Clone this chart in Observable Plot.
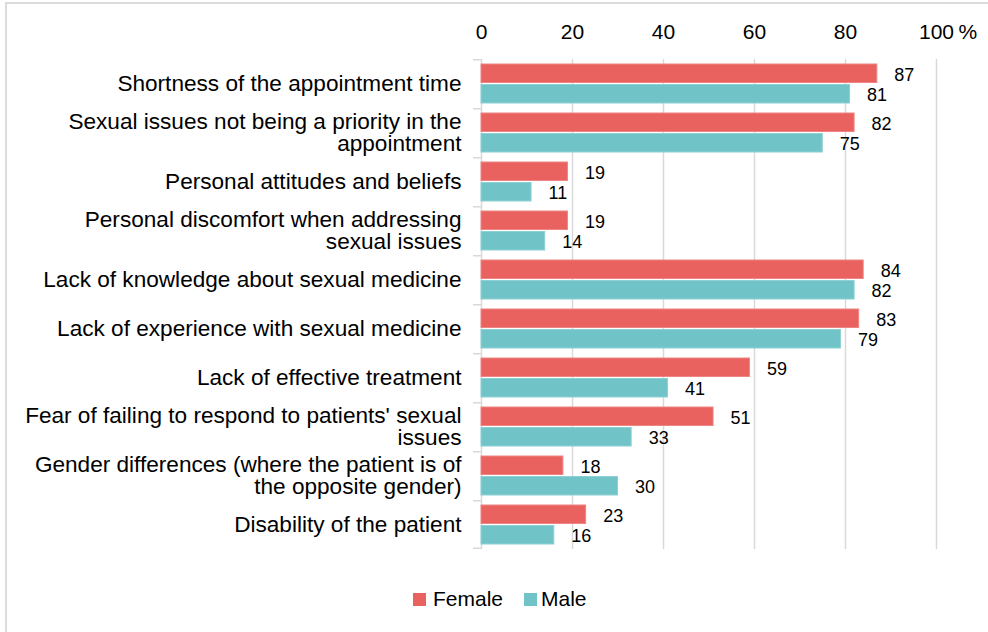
<!DOCTYPE html>
<html>
<head>
<meta charset="utf-8">
<script src="https://cdn.jsdelivr.net/npm/d3@7"></script>
<script src="https://cdn.jsdelivr.net/npm/@observablehq/plot@0.6"></script>
<style>
  html, body { margin: 0; padding: 0; background: #fff; overflow: hidden; width: 988px; height: 632px; }
  body { font-family: "Liberation Sans", Arial, sans-serif; position: relative; }
  #frame { position: absolute; left: 5px; top: 2px; width: 1200px; height: 1000px; border: 2px solid #dcdcdc; box-sizing: border-box; }
  #chart { position: absolute; left: 0; top: 0; }
  #legend { position: absolute; top: 587px; left: 0; width: 988px; height: 24px; font-size: 21px; color: #000; }
  .sw { position: absolute; width: 13px; height: 13px; top: 6px; }
  .lt { position: absolute; top: 0; line-height: 24px; }
</style>
</head>
<body>
<div id="frame"></div>
<div id="chart"></div>
<div id="legend">
  <div class="sw" style="left:413px;background:#E9625F"></div><div class="lt" style="left:433px">Female</div>
  <div class="sw" style="left:524px;background:#70C4C8"></div><div class="lt" style="left:541px">Male</div>
</div>
<script>
const categories = [
  "Shortness of the appointment time",
  "Sexual issues not being a priority in the appointment",
  "Personal attitudes and beliefs",
  "Personal discomfort when addressing sexual issues",
  "Lack of knowledge about sexual medicine",
  "Lack of experience with sexual medicine",
  "Lack of effective treatment",
  "Fear of failing to respond to patients' sexual issues",
  "Gender differences (where the patient is of the opposite gender)",
  "Disability of the patient"
];
const labelLines = [
  "Shortness of the appointment time",
  "Sexual issues not being a priority in the\nappointment",
  "Personal attitudes and beliefs",
  "Personal discomfort when addressing\nsexual issues",
  "Lack of knowledge about sexual medicine",
  "Lack of experience with sexual medicine",
  "Lack of effective treatment",
  "Fear of failing to respond to patients' sexual\nissues",
  "Gender differences (where the patient is of\nthe opposite gender)",
  "Disability of the patient"
];
const female = [87, 82, 19, 19, 84, 83, 59, 51, 18, 23];
const male = [81, 75, 11, 14, 82, 79, 41, 33, 30, 16];
const xTicks = [0, 20, 40, 60, 80, 100];

const femaleData = categories.map((c, i) => ({category: c, value: female[i]}));
const maleData = categories.map((c, i) => ({category: c, value: male[i]}));
const labelData = categories.map((c, i) => ({category: c, label: labelLines[i]}));

const FEMALE = "#E9625F", MALE = "#70C4C8", GRID = "#d9d9d9";

const chart = Plot.plot({
  width: 988,
  height: 572,
  marginLeft: 481,
  marginRight: 52,
  marginTop: 59,
  marginBottom: 23,
  style: {fontFamily: "'Liberation Sans', Arial, sans-serif", background: "transparent", color: "#000"},
  x: {domain: [0, 100], axis: null},
  y: {domain: categories, paddingInner: 0, paddingOuter: 0, axis: null},
  marks: [
    Plot.ruleX(xTicks.slice(1), {stroke: GRID, strokeWidth: 1.5}),
    Plot.ruleX([0], {stroke: GRID, strokeWidth: 1.5}),
    Plot.barX(categories, {y: d => d, x1: -1.75, x2: 0, fill: GRID, insetBottom: 47.5}),
    Plot.barX(categories.slice(-1), {y: d => d, x1: -1.75, x2: 0, fill: GRID, insetTop: 47.5}),
    Plot.barX(femaleData, {y: "category", x: "value", fill: FEMALE, stroke: "#EE8683", strokeWidth: 1, insetTop: 5, insetBottom: 25.5}),
    Plot.barX(maleData, {y: "category", x: "value", fill: MALE, stroke: "#8ED0D3", strokeWidth: 1, insetTop: 25.5, insetBottom: 5}),
    Plot.text(femaleData, {y: "category", x: "value", text: d => String(d.value), dx: 17, dy: -9, textAnchor: "start", fontSize: 18, fill: "#000"}),
    Plot.text(maleData, {y: "category", x: "value", text: d => String(d.value), dx: 17, dy: 11.5, textAnchor: "start", fontSize: 18, fill: "#000"}),
    Plot.text(labelData, {y: "category", frameAnchor: "left", text: "label", dx: -20, textAnchor: "end", lineAnchor: "middle", lineHeight: 0.98, fontSize: 22.6, fill: "#000"}),
    Plot.text(xTicks, {x: d => d, frameAnchor: "top", lineAnchor: "middle", dy: -27, text: d => String(d), fontSize: 21, fill: "#000"}),
    Plot.text(["%"], {x: () => 100, frameAnchor: "top", lineAnchor: "middle", dy: -27, dx: 22, textAnchor: "start", text: d => d, fontSize: 21, fill: "#000"})
  ]
});
document.getElementById("chart").appendChild(chart);
</script>
</body>
</html>
